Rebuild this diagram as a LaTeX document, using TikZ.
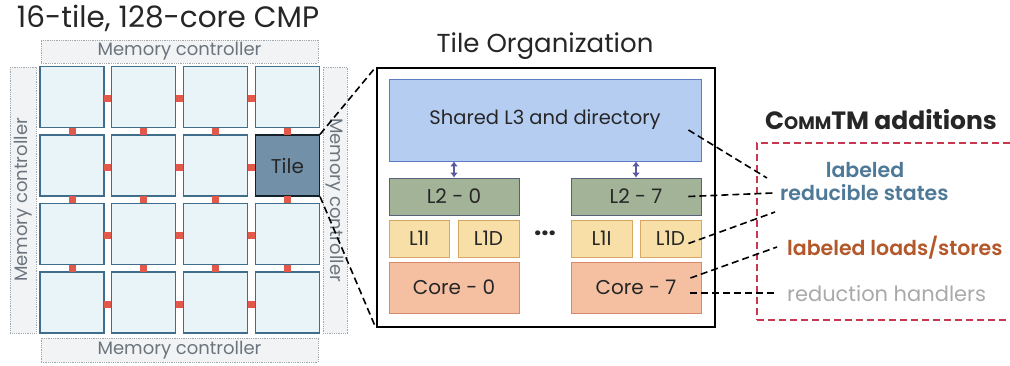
\documentclass[tikz,border=0pt]{standalone}
\usepackage{fontspec}
\setmainfont{Poppins}
\IfFontExistsTF{Poppins SemiBold}{\newfontfamily\semib{Poppins SemiBold}}{\newcommand\semib{\bfseries}}
\usetikzlibrary{arrows.meta, calc, positioning}
\definecolor{tilefill}{HTML}{E9F4F8}
\definecolor{tileline}{HTML}{3F6E8C}
\definecolor{tilehl}{HTML}{7390A9}
\definecolor{linkred}{HTML}{E2594C}
\definecolor{mcfill}{HTML}{F1F3F5}
\definecolor{mcline}{HTML}{A3A8AD}
\definecolor{mctext}{HTML}{6C757D}
\definecolor{lthree}{HTML}{B6CDF2}
\definecolor{lthreeline}{HTML}{5C7DC6}
\definecolor{ltwo}{HTML}{A2B398}
\definecolor{ltwoline}{HTML}{56627A}
\definecolor{lone}{HTML}{F8DFA8}
\definecolor{loneline}{HTML}{D6A862}
\definecolor{corefill}{HTML}{F5C0A2}
\definecolor{coreline}{HTML}{D68A6A}
\definecolor{arrowpurple}{HTML}{5A5A9E}
\definecolor{addred}{HTML}{C8374F}
\definecolor{labblue}{HTML}{4E7997}
\definecolor{labbrown}{HTML}{B3582B}
\definecolor{labgray}{HTML}{A9A9A9}

\begin{document}
\begin{tikzpicture}[x=1pt, y=-1pt, text=black!85,
  fs/.style={font=\fontsize{#1}{#1}\selectfont},
  fsb/.style={font=\fontsize{#1}{#1}\selectfont\bfseries},
  fss/.style={font=\fontsize{#1}{#1}\selectfont\semib},
  tile/.style={draw=tileline, fill=tilefill, line width=1.3pt, minimum width=64pt, minimum height=61pt, inner sep=0pt},
  hl/.style={fill=tilehl, draw=black!70!tileline},
  link/.style={fill=linkred, minimum size=7pt, inner sep=0pt},
  memctrl/.style={draw=mcline, fill=mcfill, densely dotted, line width=0.8pt, text=mctext, fs=18, inner sep=0pt},
  cache/.style={draw, line width=0.9pt, minimum height=37pt, inner sep=0pt, fs=20},
  bus/.style={arrowpurple, line width=2pt, {Latex[length=5pt,width=8pt]}-{Latex[length=5pt,width=8pt]}},
  zoomline/.style={dashed, dash pattern=on 7pt off 4pt, line width=1.6pt},
  lab/.style={inner sep=0pt, anchor=west}]
\useasboundingbox (0,0) rectangle (1010,366);
\node[fs=29.5] (cmptitle) at (168,18) {16-tile, 128-core CMP};
\node[memctrl, minimum width=277pt, minimum height=23pt] (mctop) at (179.5,51.5) {Memory controller};
\node[memctrl, minimum width=277pt, minimum height=24pt] (mcbot) at (179.5,350) {Memory controller};
\node[memctrl, minimum width=266pt, minimum height=26pt, rotate=90] (mcleft) at (23,200) {Memory controller};
\node[memctrl, minimum width=266pt, minimum height=24pt, rotate=-90] (mcright) at (335,200) {Memory controller};
\foreach \c in {1,...,4}
  \foreach \r in {1,...,4}
    \node[tile] (t-\c-\r) at ({72+71.8*(\c-1)},{97+68.5*(\r-1)}) {};
\node[tile, hl, fs=20] (tile) at (t-4-2) {Tile};
\foreach \r in {1,...,4}
  \foreach \c in {1,...,3}
    \node[link] (h-\c-\r) at ({107.9+71.8*(\c-1)},{99+68.5*(\r-1)}) {};
\foreach \c in {1,...,4}
  \foreach \r in {1,...,3}
    \node[link] (v-\c-\r) at ({72+71.8*(\c-1)},{131.25+68.5*(\r-1)}) {};

\node[fs=26] (orgtitle) at (545,46) {Tile Organization};
\node[draw, line width=2.2pt, minimum width=338pt, minimum height=259pt] (org) at (546,197.5) {};
\node[draw=lthreeline, fill=lthree, line width=0.9pt, minimum width=312pt, minimum height=82pt, fs=19.5] (l3) at (545,120) {Shared L3 and directory};
\node[cache, draw=ltwoline, fill=ltwo, minimum width=130pt] (l2a) at (454,196.5) {L2 - 0};
\node[cache, draw=ltwoline, fill=ltwo, minimum width=130pt] (l2b) at (636,196.5) {L2 - 7};
\node[cache, draw=loneline, fill=lone, minimum width=60pt] (l1ia) at (419,238.5) {L1I};
\node[cache, draw=loneline, fill=lone, minimum width=61pt] (l1da) at (488.5,238.5) {L1D};
\node[cache, draw=loneline, fill=lone, minimum width=61pt] (l1ib) at (601.5,238.5) {L1I};
\node[cache, draw=loneline, fill=lone, minimum width=61pt] (l1db) at (670.5,238.5) {L1D};
\node[cache, draw=coreline, fill=corefill, minimum width=130pt, minimum height=51pt] (corea) at (454,287.5) {Core - 0};
\node[cache, draw=coreline, fill=corefill, minimum width=130pt, minimum height=51pt] (coreb) at (636,287.5) {Core - 7};
\node[fsb=26] (dots) at (545,233) {...};
\draw[bus] (l3.south -| l2a.north) -- (l2a.north);
\draw[bus] (l3.south -| l2b.north) -- (l2b.north);
\draw[zoomline] (tile.north east) -- (org.north west);
\draw[zoomline] (tile.south east) -- (org.south west);

\node[fsb=25] (addtitle) at (881,120) {C{\fontsize{18}{18}\selectfont OMM}TM additions};
\node[draw=addred, dashed, dash pattern=on 7pt off 4pt, line width=1.6pt, minimum width=258pt, minimum height=177pt] (adds) at (886,231.5) {};
\node[lab, anchor=center, text=labblue, fss=20.5] (labeled) at (865,170) {labeled};
\node[lab, text=labblue, fss=20.5] (redst) at (780,193) {reducible states};
\node[lab, text=labbrown, fss=20.5] (loads) at (787,248) {labeled loads/stores};
\node[lab, text=labgray, fs=21] (handlers) at (787,294) {reduction handlers};
\draw[zoomline] ([shift={(-13,10)}]l3.east) -- ([shift={(-13,-15)}]redst.west);
\draw[zoomline] ([xshift=-13]l2b.east) -- ([xshift=-7]redst.west);
\draw[zoomline] ([shift={(-13,5)}]l1db.east) -- ([shift={(-5,19)}]redst.west);
\draw[zoomline] ([shift={(-11,-9.5)}]coreb.east) -- ([shift={(-10,-1)}]loads.west);
\draw[zoomline] ([shift={(-11,5.5)}]coreb.east) -- ([shift={(-10,-1)}]handlers.west);
\end{tikzpicture}
\end{document}
